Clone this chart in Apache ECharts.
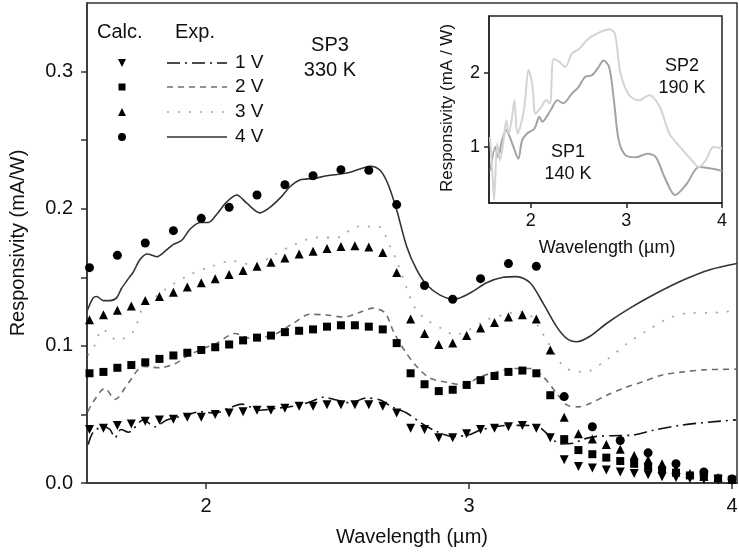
<!DOCTYPE html>
<html>
<head>
<meta charset="utf-8">
<script src="https://cdn.jsdelivr.net/npm/echarts@6/dist/echarts.min.js"></script>
<style>
  html, body { margin: 0; padding: 0; background: #fff; }
  #chart { width: 739px; height: 554px; }
</style>
</head>
<body>
<div id="chart"></div>
<script>
// calculated points (common wavelength grid, um)
var calcX = [1.557,1.610,1.663,1.716,1.769,1.823,1.876,1.929,1.982,2.035,2.088,2.141,2.194,2.247,2.300,2.354,2.407,2.460,2.513,2.566,2.619,2.672,2.725,2.778,2.831,2.885,2.938,2.991,3.044,3.097,3.150,3.203,3.256,3.309,3.362,3.416,3.469,3.522,3.575,3.628,3.681,3.734,3.787,3.840,3.893,3.947,4.000];
var calc1V = [0.039,0.040,0.042,0.043,0.045,0.046,0.0465,0.048,0.048,0.050,0.051,0.052,0.053,0.053,0.0545,0.056,0.056,0.057,0.057,0.057,0.057,0.056,0.051,0.040,0.039,0.033,0.033,0.036,0.039,0.040,0.041,0.042,0.040,0.033,0.017,0.012,0.011,0.0095,0.008,0.007,0.006,0.0046,0.004,0.0032,0.0027,0.0022,0.0017];
var calc2V = [0.080,0.081,0.084,0.086,0.088,0.0905,0.093,0.095,0.097,0.099,0.101,0.104,0.106,0.1075,0.110,0.111,0.112,0.114,0.115,0.115,0.114,0.112,0.102,0.080,0.072,0.067,0.068,0.0715,0.075,0.078,0.081,0.082,0.080,0.064,0.032,0.024,0.021,0.0185,0.016,0.014,0.012,0.0095,0.0075,0.0055,0.0046,0.0034,0.0024];
var calc3V = [0.119,0.1226,0.126,0.129,0.133,0.136,0.139,0.143,0.146,0.149,0.152,0.155,0.158,0.161,0.164,0.167,0.169,0.171,0.1725,0.173,0.172,0.168,0.1535,0.1195,0.109,0.101,0.102,0.1075,0.113,0.117,0.121,0.1226,0.1195,0.097,0.048,0.036,0.032,0.028,0.0246,0.020,0.017,0.014,0.010,0.007,0.005,0.004,0.0027];
// 4 V points sit on every second grid wavelength
var calc4V = [0.157,0.166,0.175,0.184,0.193,0.201,0.210,0.2175,0.224,0.2285,0.228,0.203,0.144,0.134,0.149,0.160,0.158,0.063,0.041,0.031,0.022,0.014,0.008,0.003];

// experimental curves
var exp1X = [1.552,1.571,1.610,1.635,1.654,1.677,1.705,1.762,1.806,1.851,1.927,1.977,2.034,2.098,2.136,2.205,2.269,2.332,2.395,2.446,2.497,2.548,2.611,2.662,2.712,2.763,2.820,2.877,2.940,2.997,3.042,3.099,3.149,3.206,3.263,3.308,3.346,3.397,3.435,3.486,3.549,3.625,3.701,3.802,3.891,4.015];
var exp1Y = [0.028,0.037,0.041,0.039,0.033,0.039,0.037,0.046,0.041,0.046,0.0495,0.052,0.051,0.0555,0.0575,0.053,0.0545,0.056,0.059,0.0625,0.0605,0.0585,0.062,0.0605,0.055,0.051,0.0435,0.0375,0.034,0.035,0.0385,0.041,0.042,0.042,0.041,0.034,0.0285,0.029,0.032,0.034,0.0345,0.035,0.0385,0.042,0.044,0.046];
var exp2X = [1.551,1.567,1.616,1.654,1.705,1.762,1.825,1.882,1.932,1.977,2.041,2.110,2.167,2.256,2.332,2.395,2.459,2.522,2.578,2.636,2.681,2.715,2.757,2.801,2.852,2.928,2.978,3.042,3.105,3.168,3.232,3.282,3.333,3.371,3.416,3.460,3.524,3.587,3.663,3.739,3.815,3.891,4.015];
var exp2Y = [0.052,0.058,0.069,0.061,0.073,0.085,0.084,0.087,0.093,0.097,0.102,0.109,0.1055,0.108,0.1165,0.123,0.1225,0.121,0.124,0.1275,0.124,0.1095,0.096,0.085,0.0765,0.073,0.0715,0.0775,0.081,0.0835,0.0835,0.0775,0.0655,0.057,0.0555,0.058,0.064,0.069,0.074,0.079,0.081,0.0825,0.083];
var exp3X = [1.551,1.571,1.607,1.663,1.726,1.756,1.844,1.939,2.022,2.098,2.180,2.256,2.338,2.421,2.497,2.577,2.655,2.700,2.731,2.763,2.795,2.839,2.902,2.947,3.004,3.067,3.130,3.186,3.232,3.270,3.302,3.365,3.441,3.524,3.600,3.676,3.758,3.840,3.916,4.019];
var exp3Y = [0.093,0.098,0.112,0.104,0.111,0.126,0.141,0.152,0.158,0.162,0.159,0.166,0.174,0.179,0.179,0.187,0.187,0.1725,0.159,0.142,0.1275,0.119,0.112,0.108,0.112,0.119,0.1225,0.125,0.1225,0.112,0.102,0.084,0.081,0.090,0.1015,0.111,0.120,0.124,0.124,0.126];
var exp4X = [1.549,1.571,1.584,1.610,1.635,1.660,1.679,1.705,1.724,1.749,1.777,1.813,1.838,1.876,1.908,1.939,1.977,2.009,2.041,2.079,2.117,2.155,2.205,2.243,2.288,2.319,2.357,2.408,2.459,2.535,2.586,2.624,2.662,2.693,2.725,2.763,2.801,2.839,2.890,2.944,3.004,3.067,3.130,3.181,3.232,3.282,3.333,3.371,3.410,3.460,3.524,3.612,3.714,3.815,3.916,4.019];
var exp4Y = [0.126,0.135,0.136,0.133,0.133,0.135,0.142,0.149,0.154,0.163,0.167,0.165,0.168,0.174,0.177,0.185,0.190,0.190,0.196,0.205,0.210,0.204,0.197,0.201,0.209,0.216,0.221,0.222,0.224,0.226,0.229,0.231,0.228,0.2175,0.199,0.1725,0.1555,0.1445,0.137,0.134,0.1385,0.146,0.150,0.1505,0.146,0.131,0.114,0.1055,0.103,0.107,0.1165,0.1275,0.1385,0.148,0.1555,0.160];

// inset: SP1 (140 K) and SP2 (190 K)
var sp1X = [1.580,1.630,1.660,1.700,1.745,1.780,1.820,1.870,1.910,1.960,2.040,2.090,2.120,2.210,2.280,2.340,2.430,2.500,2.570,2.640,2.710,2.760,2.820,2.870,2.920,2.990,3.100,3.220,3.310,3.400,3.510,3.630,3.760,3.880,4.000];
var sp1Y = [0.68,1.00,0.86,1.09,1.23,1.14,1.00,0.84,1.09,1.18,1.25,1.41,1.34,1.50,1.63,1.59,1.72,1.81,1.95,1.97,2.08,2.17,2.08,1.63,1.09,0.89,0.86,0.91,0.86,0.59,0.35,0.50,0.73,0.71,0.68];
var sp2X = [1.574,1.600,1.617,1.650,1.680,1.716,1.745,1.770,1.800,1.830,1.860,1.890,1.930,1.980,2.020,2.050,2.110,2.160,2.200,2.240,2.300,2.360,2.430,2.510,2.600,2.690,2.820,2.880,2.940,3.030,3.130,3.240,3.350,3.450,3.560,3.670,3.760,3.830,3.910,4.000];
var sp2Y = [1.135,0.64,0.28,1.05,0.82,1.09,1.36,1.18,1.36,1.63,1.18,1.27,1.50,2.04,1.81,1.45,1.54,1.63,1.59,2.19,2.15,2.08,2.26,2.33,2.46,2.53,2.59,2.53,1.99,1.70,1.63,1.70,1.54,1.18,1.00,0.84,0.73,0.82,1.00,0.98];

var mainXTicks = [2, 3, 4];
var mainYLabels = [0, 0.1, 0.2, 0.3];
var mainYTicks = [0, 0.05, 0.1, 0.15, 0.2, 0.25, 0.3];
var insetXTicks = [2, 3, 4];
var insetYTicks = [1, 2];

var FONT = '"Liberation Sans", Arial, sans-serif';
var AXIS = '#333';

function zip(xs, ys) {
    return xs.map(function (x, i) { return [x, ys[i]]; });
}

var dash1 = [13, 5, 2, 5];
var dash2 = [6, 5];
var dash3 = [2, 9];

var chart = echarts.init(document.getElementById('chart'));

function legendText(x, y, t, size) {
    return {
        type: 'text', x: x, y: y, z: 100,
        style: { text: t, font: (size || 20) + 'px ' + FONT, fill: '#111', align: 'left', verticalAlign: 'middle' }
    };
}
function centerText(x, y, t, size, rot) {
    return {
        type: 'text', x: x, y: y, z: 100, rotation: rot || 0,
        style: { text: t, font: size + 'px ' + FONT, fill: '#111', align: 'center', verticalAlign: 'middle' }
    };
}
function legendLine(y, dash, color) {
    return {
        type: 'line', z: 100,
        shape: { x1: 167, y1: y, x2: 227, y2: y },
        style: { stroke: color, lineWidth: 1.6, lineDash: dash }
    };
}

var rows = [63, 87, 112, 137];
var markStyle = { color: '#000', opacity: 1 };

var option = {
    animation: false,
    backgroundColor: '#fff',
    grid: [
        { left: 87, right: 2, top: 3, bottom: 71, show: true, borderColor: AXIS, borderWidth: 1.5, outerBoundsMode: 'none' },
        { left: 489, width: 233, top: 16, height: 187, show: true, borderColor: '#222', borderWidth: 1.5, backgroundColor: '#fff', outerBoundsMode: 'none', z: 5 }
    ],
    xAxis: [
        {
            type: 'value', gridIndex: 0, min: 1.5475, max: 4.019,
            axisLine: { onZero: false, lineStyle: { color: AXIS, width: 1.5 } },
            axisTick: { customValues: mainXTicks, length: 6, lineStyle: { color: AXIS, width: 1.5 } },
            axisLabel: { customValues: mainXTicks, color: '#111', fontSize: 20, fontFamily: FONT, margin: 13 },
            splitLine: { show: false }
        },
        {
            type: 'value', gridIndex: 1, min: 1.564, max: 4.0, z: 6,
            axisLine: { onZero: false, lineStyle: { color: '#222', width: 1.5 } },
            axisTick: { customValues: insetXTicks, length: 5, lineStyle: { color: '#222', width: 1.5 } },
            axisLabel: { customValues: insetXTicks, color: '#111', fontSize: 18, fontFamily: FONT, margin: 9 },
            splitLine: { show: false }
        }
    ],
    yAxis: [
        {
            type: 'value', gridIndex: 0, min: 0, max: 0.35,
            axisLine: { onZero: false, lineStyle: { color: AXIS, width: 1.5 } },
            axisTick: { customValues: mainYTicks, length: 6, lineStyle: { color: AXIS, width: 1.5 } },
            axisLabel: {
                customValues: mainYLabels, color: '#111', fontSize: 20, fontFamily: FONT, margin: 14,
                formatter: function (v) { return v.toFixed(1); }
            },
            splitLine: { show: false }
        },
        {
            type: 'value', gridIndex: 1, min: 0.243, max: 2.77, z: 6,
            axisLine: { onZero: false, lineStyle: { color: '#222', width: 1.5 } },
            axisTick: { customValues: insetYTicks, length: 5, lineStyle: { color: '#222', width: 1.5 } },
            axisLabel: { customValues: insetYTicks, color: '#111', fontSize: 18, fontFamily: FONT, margin: 9 },
            splitLine: { show: false }
        }
    ],
    series: [
        { name: '1 V exp', type: 'line', data: zip(exp1X, exp1Y), showSymbol: false, smooth: 0.3, z: 2,
          lineStyle: { color: '#111', width: 1.6, type: dash1 } },
        { name: '2 V exp', type: 'line', data: zip(exp2X, exp2Y), showSymbol: false, smooth: 0.3, z: 2,
          lineStyle: { color: '#6f6f6f', width: 1.6, type: dash2 } },
        { name: '3 V exp', type: 'line', data: zip(exp3X, exp3Y), showSymbol: false, smooth: 0.3, z: 2,
          lineStyle: { color: '#a8a8a8', width: 1.8, type: dash3 } },
        { name: '4 V exp', type: 'line', data: zip(exp4X, exp4Y), showSymbol: false, smooth: 0.3, z: 2,
          lineStyle: { color: '#333', width: 1.6 } },
        { name: '1 V calc', type: 'scatter', data: zip(calcX, calc1V), symbol: 'triangle', symbolRotate: 180, symbolSize: 9, z: 3,
          itemStyle: markStyle },
        { name: '2 V calc', type: 'scatter', data: zip(calcX, calc2V), symbol: 'rect', symbolSize: 8, z: 3,
          itemStyle: markStyle },
        { name: '3 V calc', type: 'scatter', data: zip(calcX, calc3V), symbol: 'triangle', symbolSize: 9, z: 3,
          itemStyle: markStyle },
        { name: '4 V calc', type: 'scatter', z: 3,
          data: zip(calcX.filter(function (x, i) { return i % 2 === 0; }), calc4V),
          symbol: 'circle', symbolSize: 9, itemStyle: markStyle },
        { name: 'SP1', type: 'line', xAxisIndex: 1, yAxisIndex: 1, data: zip(sp1X, sp1Y), showSymbol: false, smooth: 0.3, z: 7,
          lineStyle: { color: '#a3a3a3', width: 2 } },
        { name: 'SP2', type: 'line', xAxisIndex: 1, yAxisIndex: 1, data: zip(sp2X, sp2Y), showSymbol: false, smooth: 0.3, z: 7,
          lineStyle: { color: '#d4d4d4', width: 2 } }
    ],
    graphic: [
        centerText(18, 243, 'Responsivity (mA/W)', 20, Math.PI / 2),
        centerText(412, 537, 'Wavelength (\u00b5m)', 20),
        centerText(447, 108, 'Responsivity (mA / W)', 17, Math.PI / 2),
        centerText(607, 248, 'Wavelength (\u00b5m)', 18),
        centerText(682, 66, 'SP2', 18),
        centerText(682, 88, '190 K', 18),
        centerText(568, 152, 'SP1', 18),
        centerText(568, 174, '140 K', 18),
        centerText(330, 45, 'SP3', 20),
        centerText(330, 70, '330 K', 20),
        legendText(97, 32, 'Calc.'),
        legendText(175, 32, 'Exp.'),
        { type: 'polygon', z: 100, shape: { points: [[118, rows[0] - 4], [126, rows[0] - 4], [122, rows[0] + 4]] }, style: { fill: '#000' } },
        { type: 'rect', z: 100, shape: { x: 118.5, y: rows[1] - 3.5, width: 7, height: 7 }, style: { fill: '#000' } },
        { type: 'polygon', z: 100, shape: { points: [[118, rows[2] + 4], [126, rows[2] + 4], [122, rows[2] - 4]] }, style: { fill: '#000' } },
        { type: 'circle', z: 100, shape: { cx: 122, cy: rows[3], r: 4 }, style: { fill: '#000' } },
        legendLine(rows[0], dash1, '#111'),
        legendLine(rows[1], dash2, '#6f6f6f'),
        legendLine(rows[2], dash3, '#a8a8a8'),
        legendLine(rows[3], null, '#333'),
        legendText(235, rows[0], '1 V', 19),
        legendText(235, rows[1], '2 V', 19),
        legendText(235, rows[2], '3 V', 19),
        legendText(235, rows[3], '4 V', 19)
    ]
};

chart.setOption(option);
</script>
</body>
</html>
